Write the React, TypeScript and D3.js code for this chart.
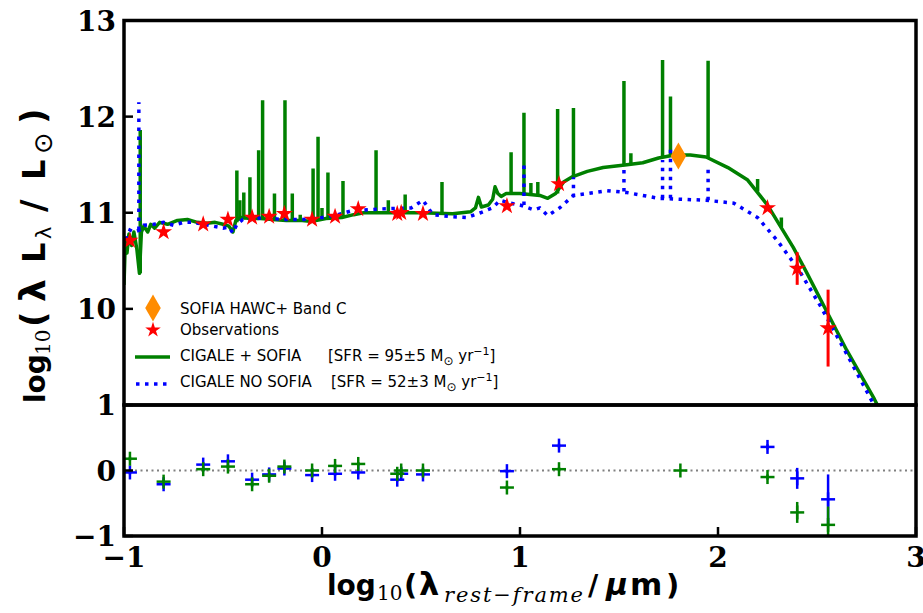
import React from "react";
import * as d3 from "d3";

const width = 923;
const height = 613;
const left = 124;
const right = 916;
const topY = 20.5;
const midY = 405;
const botY = 536;

// model SED with SOFIA point (continuum), [log lambda, log L]
const greenSed: [number, number][] = [
  [-1.0, 10.25], [-0.993, 10.72], [-0.985, 10.58], [-0.975, 10.78], [-0.962, 10.66],
  [-0.95, 10.8], [-0.935, 10.62], [-0.922, 10.37], [-0.912, 10.8], [-0.9, 10.86],
  [-0.88, 10.8], [-0.865, 10.88], [-0.845, 10.84], [-0.82, 10.9], [-0.78, 10.88],
  [-0.73, 10.92], [-0.68, 10.93], [-0.63, 10.9], [-0.58, 10.89], [-0.54, 10.9],
  [-0.5, 10.88], [-0.47, 10.86], [-0.45, 10.8], [-0.435, 10.92], [-0.41, 10.95],
  [-0.36, 10.94], [-0.31, 10.94], [-0.25, 10.93], [-0.18, 10.92], [-0.1, 10.92],
  [-0.05, 10.91], [0.02, 10.94], [0.1, 10.95], [0.16, 10.98], [0.21, 11.0],
  [0.33, 11.0], [0.5, 11.0], [0.66, 10.99], [0.75, 11.01], [0.775, 11.05],
  [0.79, 11.16], [0.805, 11.06], [0.84, 11.08], [0.862, 11.14], [0.874, 11.27],
  [0.888, 11.2], [0.905, 11.17], [0.93, 11.2], [1.0, 11.2], [1.05, 11.19],
  [1.1, 11.18], [1.14, 11.15], [1.18, 11.2], [1.22, 11.32], [1.26, 11.37],
  [1.34, 11.43], [1.42, 11.47], [1.54, 11.5], [1.62, 11.52], [1.7, 11.57],
  [1.78, 11.6], [1.86, 11.6], [1.94, 11.58], [2.05, 11.47], [2.15, 11.34],
  [2.25, 11.08], [2.38, 10.64], [2.45, 10.37], [2.52, 10.09], [2.65, 9.57],
  [2.79, 9.06], [2.83, 8.9],
];

// emission lines: [log lambda, base, peak]
const greenLines: [number, number, number][] = [
  [-0.918, 10.37, 11.86], [-0.43, 10.9, 11.44], [-0.415, 10.92, 11.13], [-0.395, 10.93, 11.21],
  [-0.364, 10.94, 11.37], [-0.32, 10.94, 11.65], [-0.3, 10.94, 12.17], [-0.24, 10.93, 11.2],
  [-0.187, 10.92, 12.17], [-0.15, 10.92, 11.2], [-0.11, 10.92, 10.98], [-0.045, 10.91, 11.46],
  [-0.02, 10.92, 11.79], [0.0, 10.93, 11.05], [0.03, 10.94, 11.42], [0.106, 10.95, 11.33],
  [0.273, 11.0, 11.65], [0.335, 11.0, 11.13], [0.42, 11.0, 11.19], [0.606, 11.0, 11.32],
  [0.955, 11.2, 11.63], [1.02, 11.2, 12.04], [1.055, 11.19, 11.31], [1.09, 11.18, 11.32],
  [1.19, 11.2, 12.08], [1.27, 11.37, 12.09], [1.525, 11.5, 12.37], [1.56, 11.51, 11.62],
  [1.72, 11.57, 12.59], [1.76, 11.59, 12.21], [1.95, 11.58, 12.58], [2.2, 11.22, 11.35],
  [2.32, 10.85, 10.95],
];

// model SED without SOFIA point
const blueSed: [number, number][] = [
  [-0.99, 10.72], [-0.97, 10.82], [-0.95, 10.8], [-0.92, 10.82], [-0.9, 10.87],
  [-0.85, 10.88], [-0.8, 10.9], [-0.75, 10.87], [-0.7, 10.9], [-0.65, 10.9],
  [-0.6, 10.88], [-0.55, 10.86], [-0.5, 10.84], [-0.47, 10.85], [-0.45, 10.79],
  [-0.43, 10.88], [-0.4, 10.93], [-0.35, 10.93], [-0.3, 10.95], [-0.2, 10.93],
  [-0.1, 10.93], [0.0, 10.95], [0.08, 10.98], [0.15, 11.02], [0.3, 11.04],
  [0.45, 11.05], [0.51, 11.13], [0.56, 10.98], [0.65, 10.96], [0.73, 10.95],
  [0.8, 11.0], [0.86, 11.05], [0.9, 11.13], [0.95, 11.1], [1.0, 11.08],
  [1.07, 11.03], [1.1, 11.05], [1.14, 10.97], [1.2, 11.05], [1.27, 11.18],
  [1.44, 11.23], [1.54, 11.21], [1.7, 11.15], [1.94, 11.13], [2.08, 11.1],
  [2.2, 10.95], [2.3, 10.71], [2.41, 10.4], [2.52, 10.02], [2.65, 9.53],
  [2.77, 9.07], [2.8, 8.95],
];

const blueLines: [number, number, number][] = [
  [-0.925, 10.82, 12.15], [1.02, 11.08, 11.5], [1.27, 11.16, 11.37],
  [1.525, 11.22, 11.5], [1.72, 11.15, 11.55], [1.76, 11.15, 11.7], [1.95, 11.13, 11.5],
];

// observations
const obsX = [-0.97, -0.8, -0.6, -0.475, -0.353, -0.267, -0.19, -0.05, 0.066, 0.183, 0.38, 0.4, 0.51, 0.934, 1.197, 2.25, 2.4, 2.556];
const obsY = [10.71, 10.8, 10.88, 10.93, 10.95, 10.96, 10.99, 10.93, 10.96, 11.04, 10.99, 11.0, 10.99, 11.07, 11.3, 11.05, 10.42, 9.8];
const obsErr = [0.02, 0.02, 0.02, 0.02, 0.02, 0.02, 0.02, 0.02, 0.02, 0.02, 0.02, 0.02, 0.02, 0.02, 0.02, 0.03, 0.17, 0.4];

const sofiaX = 1.8;
const sofiaY = 11.59;

// residuals
const resGreen = [0.18, -0.17, 0.02, 0.06, -0.21, -0.08, 0.06, 0.0, 0.07, 0.1, -0.05, 0.0, 0.0, -0.26, 0.02, -0.1, -0.64, -0.83];
const resGreenErr = [0.03, 0.03, 0.03, 0.03, 0.03, 0.03, 0.03, 0.03, 0.03, 0.03, 0.03, 0.03, 0.03, 0.03, 0.03, 0.04, 0.16, 0.28];
const resSofia = 0.0;
const resBlue = [-0.03, -0.21, 0.09, 0.14, -0.14, -0.06, 0.03, -0.07, -0.05, -0.03, -0.14, -0.05, -0.06, -0.01, 0.38, 0.36, -0.12, -0.44];
const resBlueErr = [0.03, 0.03, 0.03, 0.03, 0.03, 0.03, 0.03, 0.03, 0.03, 0.03, 0.03, 0.03, 0.03, 0.03, 0.03, 0.04, 0.16, 0.38];

const xTicks = [-1, 0, 1, 2, 3];
const yTicksTop = [10, 11, 12, 13];
const yTicksBot = [-1, 0, 1];

const GREEN = "#008000";
const BLUE = "#0000ff";
const RED = "#ff0000";
const ORANGE = "#ff8c00";
const fmt = (v: number) => (v < 0 ? "\u2212" + Math.abs(v) : String(v));

const Cross = ({ cx, cy, color }: { cx: number; cy: number; color: string }) => (
  <g stroke={color} strokeWidth={2.5}>
    <line x1={cx - 7} x2={cx + 7} y1={cy} y2={cy} />
    <line x1={cx} x2={cx} y1={cy - 7} y2={cy + 7} />
  </g>
);

export default function App() {
  const x = d3.scaleLinear().domain([-1, 3]).range([left, right]);
  const yT = d3.scaleLinear().domain([9, 13]).range([midY, topY]);
  const yB = d3.scaleLinear().domain([-1, 1]).range([botY, midY]);

  const line = d3.line<[number, number]>().x((d) => x(d[0])).y((d) => yT(d[1]));
  const star = d3.symbol(d3.symbolStar, 90)();
  const diamond = d3.symbol(d3.symbolDiamond, 210)();

  const serif = "DejaVu Serif";
  const sans = "DejaVu Sans";

  return (
    <svg width={width} height={height} style={{ position: "absolute", left: 0, top: 0, background: "#fff" }}>
      <defs>
        <clipPath id="clipTop">
          <rect x={left} y={topY} width={right - left} height={midY - topY} />
        </clipPath>
        <clipPath id="clipBot">
          <rect x={left} y={midY} width={right - left} height={botY - midY} />
        </clipPath>
      </defs>

      {/* top panel */}
      <g clipPath="url(#clipTop)">
        <path d={line(greenSed) || ""} fill="none" stroke={GREEN} strokeWidth={3.5} strokeLinejoin="round" />
        {greenLines.map((d, i) => (
          <line key={i} x1={x(d[0])} x2={x(d[0])} y1={yT(d[1])} y2={yT(d[2])} stroke={GREEN} strokeWidth={3.5} />
        ))}
        <path d={line(blueSed) || ""} fill="none" stroke={BLUE} strokeWidth={3.5} strokeDasharray="3.5,5.5" />
        {blueLines.map((d, i) => (
          <line key={i} x1={x(d[0])} x2={x(d[0])} y1={yT(d[1])} y2={yT(d[2])} stroke={BLUE} strokeWidth={3.5} strokeDasharray="3.5,5.5" />
        ))}
        {obsX.map((v, i) => (
          <line key={"e" + i} x1={x(v)} x2={x(v)} y1={yT(obsY[i] - obsErr[i])} y2={yT(obsY[i] + obsErr[i])} stroke={RED} strokeWidth={3} />
        ))}
        {obsX.map((v, i) => (
          <path key={"s" + i} d={star || ""} transform={`translate(${x(v)},${yT(obsY[i])})`} fill={RED} />
        ))}
        <path d={diamond || ""} transform={`translate(${x(sofiaX)},${yT(sofiaY)})`} fill={ORANGE} />
      </g>

      {/* bottom panel */}
      <g clipPath="url(#clipBot)">
        <line x1={left} x2={right} y1={yB(0)} y2={yB(0)} stroke="#808080" strokeWidth={2} strokeDasharray="2,3.5" />
        {obsX.map((v, i) => (
          <g key={"b" + i}>
            <line x1={x(v)} x2={x(v)} y1={yB(resBlue[i] - resBlueErr[i])} y2={yB(resBlue[i] + resBlueErr[i])} stroke={BLUE} strokeWidth={2.5} />
            <Cross cx={x(v)} cy={yB(resBlue[i])} color={BLUE} />
          </g>
        ))}
        {obsX.map((v, i) => (
          <g key={"g" + i}>
            <line x1={x(v)} x2={x(v)} y1={yB(resGreen[i] - resGreenErr[i])} y2={yB(resGreen[i] + resGreenErr[i])} stroke={GREEN} strokeWidth={2.5} />
            <Cross cx={x(v)} cy={yB(resGreen[i])} color={GREEN} />
          </g>
        ))}
        <Cross cx={x(sofiaX + 0.01)} cy={yB(resSofia)} color={GREEN} />
      </g>

      {/* frames */}
      <rect x={left} y={topY} width={right - left} height={midY - topY} fill="none" stroke="#000" strokeWidth={3.5} />
      <rect x={left} y={midY} width={right - left} height={botY - midY} fill="none" stroke="#000" strokeWidth={3.5} />

      {/* ticks */}
      {yTicksTop.map((t) => (
        <g key={"yt" + t}>
          <line x1={left} x2={left + 9} y1={yT(t)} y2={yT(t)} stroke="#000" strokeWidth={2.5} />
          <text x={116} y={yT(t)} dy="0.36em" textAnchor="end" fontFamily={serif} fontWeight="bold" fontSize={28}>
            {fmt(t)}
          </text>
        </g>
      ))}
      {yTicksBot.map((t) => (
        <g key={"yb" + t}>
          <line x1={left} x2={left + 9} y1={yB(t)} y2={yB(t)} stroke="#000" strokeWidth={2.5} />
          <text x={116} y={yB(t)} dy="0.36em" textAnchor="end" fontFamily={serif} fontWeight="bold" fontSize={28}>
            {fmt(t)}
          </text>
        </g>
      ))}
      {xTicks.map((t) => (
        <g key={"xt" + t}>
          <line x1={x(t)} x2={x(t)} y1={botY} y2={botY - 9} stroke="#000" strokeWidth={2.5} />
          <text x={x(t)} y={567} textAnchor="middle" fontFamily={serif} fontWeight="bold" fontSize={28}>
            {fmt(t)}
          </text>
        </g>
      ))}

      {/* legend */}
      <path d={diamond || ""} transform="translate(153,308)" fill={ORANGE} />
      <path d={d3.symbol(d3.symbolStar, 75)() || ""} transform="translate(153,330)" fill={RED} />
      <line x1={135} x2={170} y1={357} y2={357} stroke={GREEN} strokeWidth={3.5} />
      <line x1={136} x2={170} y1={384} y2={384} stroke={BLUE} strokeWidth={3.5} strokeDasharray="3.5,5.5" />
      <g fontFamily={sans} fontSize={15} fill="#000">
        <text x={180} y={314}>SOFIA HAWC+ Band C</text>
        <text x={180} y={335}>Observations</text>
        <text x={180} y={361}>CIGALE + SOFIA</text>
        <text x={328} y={361}>
          [SFR = 95±5 M<tspan fontSize={12} dy={4}>⊙</tspan>
          <tspan dy={-4}> yr</tspan>
          <tspan fontSize={11} dy={-6}>−1</tspan>
          <tspan dy={6}>]</tspan>
        </text>
        <text x={180} y={387}>CIGALE NO SOFIA</text>
        <text x={331} y={387}>
          [SFR = 52±3 M<tspan fontSize={12} dy={4}>⊙</tspan>
          <tspan dy={-4}> yr</tspan>
          <tspan fontSize={11} dy={-6}>−1</tspan>
          <tspan dy={6}>]</tspan>
        </text>
      </g>

      {/* y label */}
      <g transform="translate(45,403) rotate(-90)" fontFamily={sans} fontWeight="bold" fontSize={28}>
        <text x={0} y={0}>log</text>
        <text x={48} y={5} fontFamily={serif} fontWeight="normal" fontSize={20}>10</text>
        <text x={76} y={0} fontSize={34}>(</text>
        <text x={101} y={0} fontSize={36}>λ</text>
        <text x={140} y={0} fontSize={32}>L</text>
        <text x={164} y={6} fontWeight="normal" fontSize={21}>λ</text>
        <text x={191} y={0} fontSize={34}>/</text>
        <text x={223} y={0} fontSize={32}>L</text>
        <text x={249} y={7} fontWeight="normal" fontSize={26}>⊙</text>
        <text x={279} y={0} fontSize={34}>)</text>
      </g>

      {/* x label */}
      <g fontFamily={sans} fontWeight="bold" fontSize={28}>
        <text x={327} y={595}>log</text>
        <text x={377} y={600} fontFamily={serif} fontWeight="normal" fontSize={20}>10</text>
        <text x={404} y={595} fontSize={29}>(</text>
        <text x={419} y={595} fontSize={32}>λ</text>
        <text x={444} y={602} fontFamily={serif} fontStyle="italic" fontWeight="normal" fontSize={21} letterSpacing={1.9}>rest−frame</text>
        <text x={588} y={595}>/</text>
        <text x={606} y={595} fontSize={30} fontStyle="italic">μ</text>
        <text x={630} y={595} fontSize={31}>m</text>
        <text x={666} y={595} fontSize={29}>)</text>
      </g>
    </svg>
  );
}
